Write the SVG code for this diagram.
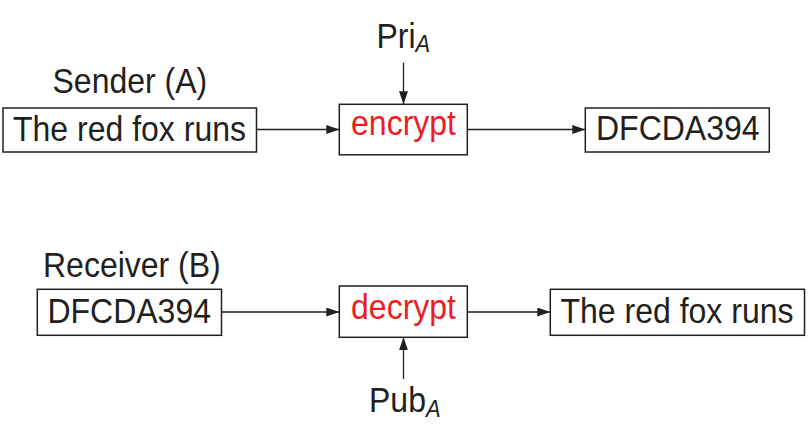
<svg xmlns="http://www.w3.org/2000/svg" width="808" height="438" viewBox="0 0 808 438">
  <defs>
    <style>
      .box { fill: #ffffff; stroke: #231f20; stroke-width: 1.5; }
      .lbl { font-family: "Liberation Sans", Arial, Helvetica, sans-serif; font-size: 32px; fill: #231f20; }
      .op { fill: #ed1c24; }
      .sub { font-size: 22px; font-style: italic; }
      .wire { stroke: #231f20; stroke-width: 1.3; fill: none; marker-end: url(#head); }
    </style>
    <marker id="head" markerUnits="userSpaceOnUse" markerWidth="14" markerHeight="10" refX="13" refY="4.5" orient="auto">
      <path d="M0,0 L13,4.5 L0,9 Z" fill="#231f20"/>
    </marker>
  </defs>

  <!-- sender side -->
  <g id="sender-label">
    <text class="lbl" transform="translate(52.5,92.5) scale(1,1.08)">Sender (A)</text>
  </g>
  <g id="plain-a">
    <rect class="box" x="3" y="108" width="253.5" height="44"/>
    <text class="lbl" text-anchor="middle" transform="translate(129.5,141.3) scale(1,1.08)">The red fox runs</text>
  </g>
  <g id="pri-key">
    <text class="lbl" transform="translate(376.5,48.3) scale(1,1.08)">Pri<tspan class="sub" dy="3.5">A</tspan></text>
  </g>
  <g id="encrypt">
    <rect class="box" x="339.3" y="104.3" width="128" height="50.5"/>
    <text class="lbl op" text-anchor="middle" transform="translate(403.5,135) scale(1,1.08)">encrypt</text>
  </g>
  <g id="cipher-a">
    <rect class="box" x="585.3" y="108" width="184" height="44"/>
    <text class="lbl" text-anchor="middle" transform="translate(677.8,140.3) scale(1,1.08)">DFCDA394</text>
  </g>

  <!-- receiver side -->
  <g id="receiver-label">
    <text class="lbl" transform="translate(43,276.7) scale(1,1.08)">Receiver (B)</text>
  </g>
  <g id="cipher-b">
    <rect class="box" x="37.3" y="289.3" width="184.2" height="46"/>
    <text class="lbl" text-anchor="middle" transform="translate(129.2,322.5) scale(1,1.08)">DFCDA394</text>
  </g>
  <g id="decrypt">
    <rect class="box" x="339.3" y="286" width="128" height="51.3"/>
    <text class="lbl op" text-anchor="middle" transform="translate(403.5,319.3) scale(1,1.08)">decrypt</text>
  </g>
  <g id="pub-key">
    <text class="lbl" transform="translate(369,411.7) scale(1,1.08)">Pub<tspan class="sub" dy="4.5">A</tspan></text>
  </g>
  <g id="plain-b">
    <rect class="box" x="550.3" y="289.3" width="254.2" height="46"/>
    <text class="lbl" text-anchor="middle" transform="translate(677,323.3) scale(1,1.08)">The red fox runs</text>
  </g>

  <!-- connectors -->
  <g id="connectors">
    <line class="wire" x1="256.5" y1="129.5" x2="339.3" y2="129.5"/>
    <line class="wire" x1="467.3" y1="129.5" x2="585.3" y2="129.5"/>
    <line class="wire" x1="403.5" y1="62.7" x2="403.5" y2="104.3"/>
    <line class="wire" x1="221.5" y1="312" x2="339.3" y2="312"/>
    <line class="wire" x1="467.3" y1="312" x2="550.3" y2="312"/>
    <line class="wire" x1="403.5" y1="379" x2="403.5" y2="337.3"/>
  </g>
</svg>
